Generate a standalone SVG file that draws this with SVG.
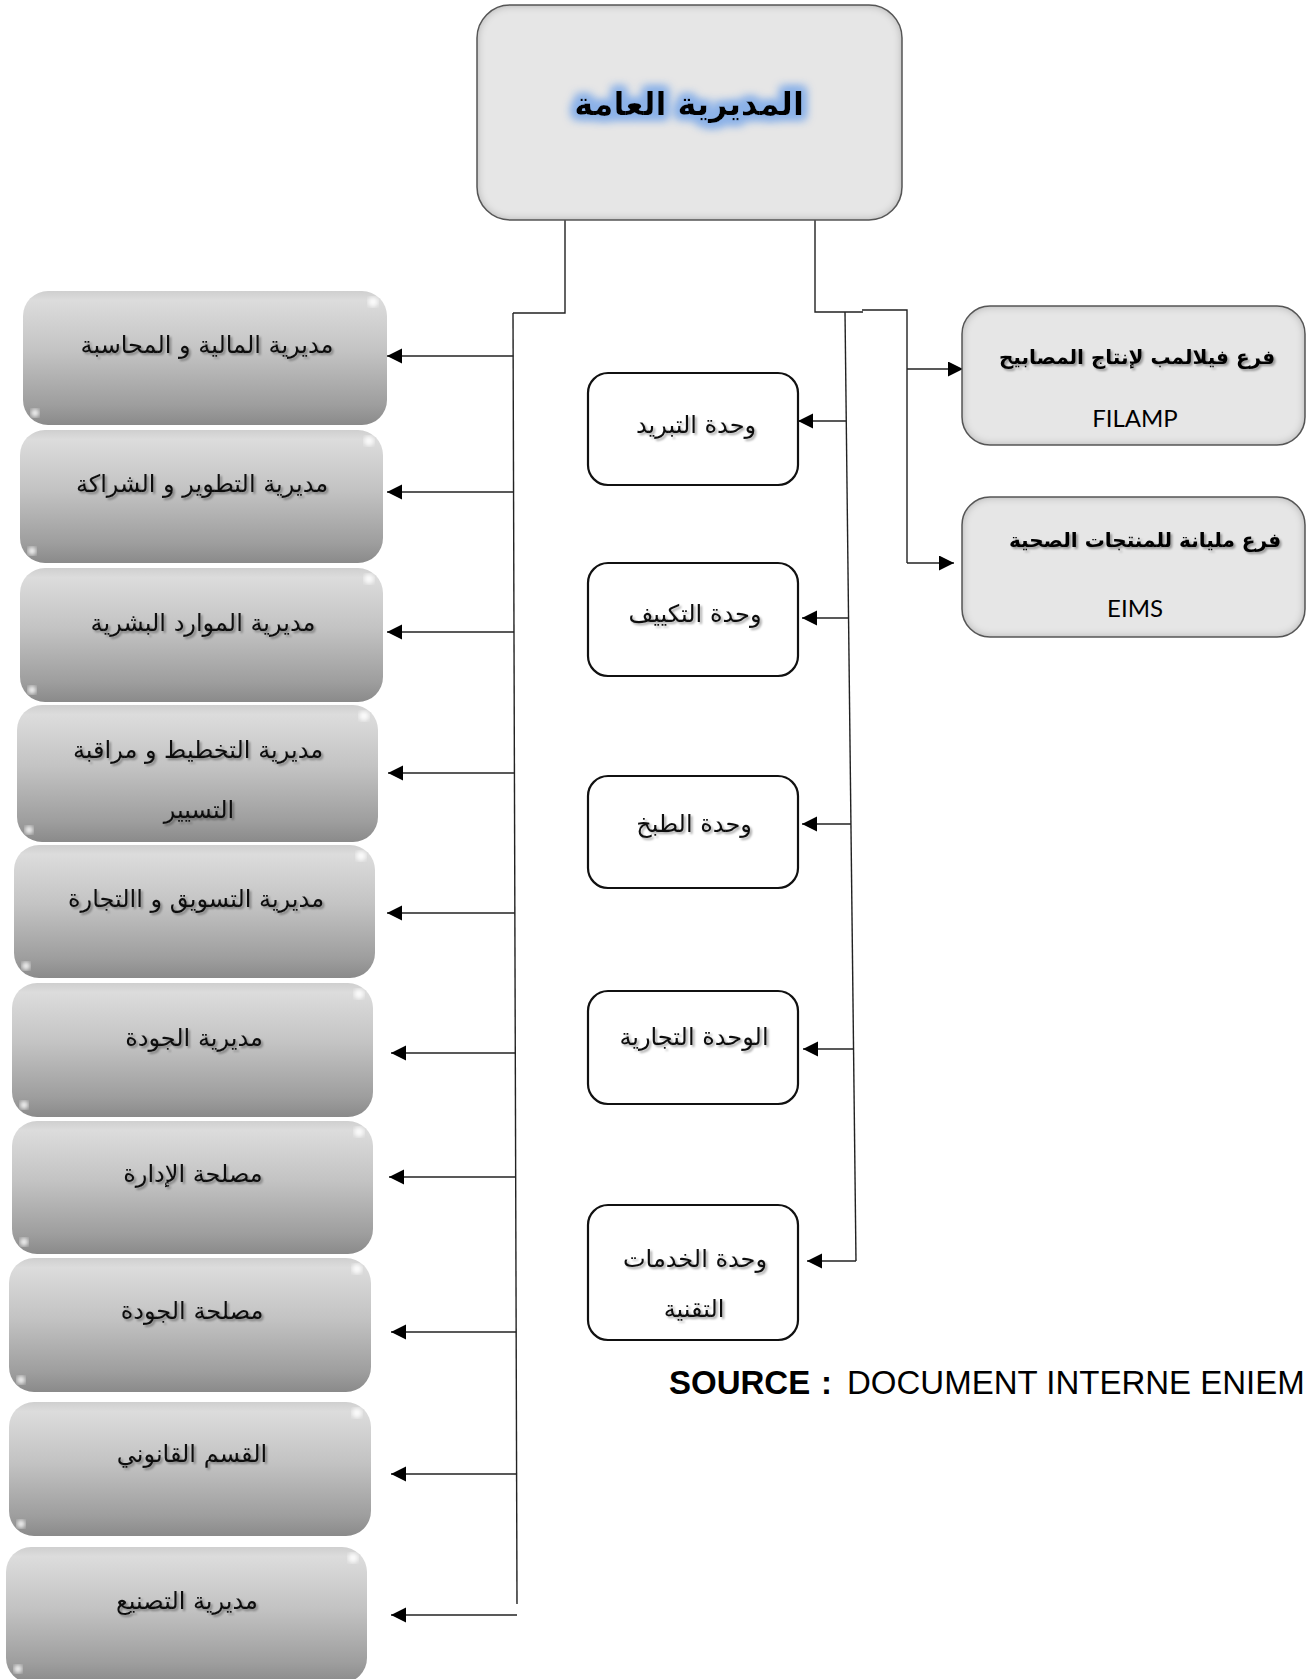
<svg xmlns="http://www.w3.org/2000/svg" width="1308" height="1679" viewBox="0 0 1308 1679">
<defs>
<linearGradient id="gBox" x1="0" y1="0" x2="0" y2="1">
<stop offset="0" stop-color="#cfcfcf"/>
<stop offset="0.07" stop-color="#dcdcdc"/>
<stop offset="0.45" stop-color="#c3c3c3"/>
<stop offset="0.85" stop-color="#9e9e9e"/>
<stop offset="1" stop-color="#8a8a8a"/>
</linearGradient>
<filter id="inset" x="-5%" y="-5%" width="110%" height="110%">
<feFlood flood-color="#000" flood-opacity="0.55"/>
<feComposite in2="SourceAlpha" operator="out"/>
<feGaussianBlur stdDeviation="4"/>
<feComposite in2="SourceAlpha" operator="in" result="sh"/>
<feMerge><feMergeNode in="SourceGraphic"/><feMergeNode in="sh"/></feMerge>
</filter>
<filter id="glow" x="-20%" y="-60%" width="140%" height="220%">
<feMorphology in="SourceAlpha" operator="dilate" radius="4" result="d"/>
<feGaussianBlur in="d" stdDeviation="5" result="b"/>
<feFlood flood-color="#8cb2e8"/>
<feComposite in2="b" operator="in" result="g"/>
<feMerge><feMergeNode in="g"/><feMergeNode in="g"/><feMergeNode in="SourceGraphic"/></feMerge>
</filter>
<filter id="tsh" x="-10%" y="-30%" width="120%" height="160%">
<feDropShadow dx="2" dy="2" stdDeviation="1.2" flood-color="#000" flood-opacity="0.35"/>
</filter>
<filter id="blur3"><feGaussianBlur stdDeviation="2"/></filter>
<marker id="ah" markerUnits="userSpaceOnUse" markerWidth="16" markerHeight="16" refX="15" refY="7.5" orient="auto">
<path d="M0,0 L15,7.5 L0,15 z" fill="#000"/>
</marker>
<style>
.ln{fill:none;stroke:#222;stroke-width:1.4}
.ar{fill:none;stroke:#222;stroke-width:1.4;marker-end:url(#ah)}
.gb{fill:url(#gBox)}
.hl{fill:#fff;opacity:0.9;filter:url(#blur3)}
.lt{font-family:"DejaVu Sans",sans-serif;font-size:24px;fill:#111;text-anchor:middle;filter:url(#tsh)}
.ub{fill:#fff;stroke:#111;stroke-width:2.2}
.bb{fill:#e6e6e6}
.bs{fill:none;stroke:#555;stroke-width:1.5}
.bt{font-family:"DejaVu Sans",sans-serif;font-size:20px;font-weight:bold;fill:#000;text-anchor:middle;filter:url(#tsh)}
.lat{font-family:Lato,"Open Sans",sans-serif;font-size:24px;fill:#000;text-anchor:middle}
</style>
</defs>
<rect width="1308" height="1679" fill="#fff"/>

<g id="connectors">
<path class="ln" d="M565,220 V313 H513"/>
<path class="ln" d="M513,313 L517,1604"/>
<path class="ar" d="M513.3,356 H387"/>
<path class="ar" d="M513.6,492 H387"/>
<path class="ar" d="M514.0,632 H387"/>
<path class="ar" d="M514.4,773 H388"/>
<path class="ar" d="M514.8,913 H387"/>
<path class="ar" d="M515.3,1053 H391"/>
<path class="ar" d="M515.7,1177 H389"/>
<path class="ar" d="M516.1,1332 H391"/>
<path class="ar" d="M516.6,1474 H391"/>
<path class="ar" d="M517,1615 H391"/>
<path class="ln" d="M815,220 V312 H863"/>
<path class="ln" d="M845,312 L856,1261"/>
<path class="ar" d="M846.3,421 H798"/>
<path class="ar" d="M848.5,618 H802"/>
<path class="ar" d="M851,824 H802"/>
<path class="ar" d="M853.5,1049 H803"/>
<path class="ar" d="M856,1261 H807"/>
<path class="ln" d="M862,310 H907 V563"/>
<path class="ar" d="M907,369 H963"/>
<path class="ar" d="M907,563 H954"/>
</g>

<g id="n-general">
<rect class="bb" x="477" y="5" width="425" height="215" rx="33" filter="url(#inset)"/>
<rect class="bs" x="477" y="5" width="425" height="215" rx="33"/>
<text x="689" y="115" font-family="DejaVu Sans, sans-serif" font-size="32" font-weight="bold" text-anchor="middle" fill="#000" filter="url(#glow)">المديرية العامة</text>
</g>

<g id="n-filamp">
<rect class="bb" x="962" y="306" width="343" height="139" rx="28" filter="url(#inset)"/>
<rect class="bs" x="962" y="306" width="343" height="139" rx="28"/>
<text class="bt" x="1137" y="364">فرع فيلالمب  لإنتاج المصابيح</text>
<text class="lat" x="1135" y="427">FILAMP</text>
</g>

<g id="n-eims">
<rect class="bb" x="962" y="497" width="343" height="140" rx="28" filter="url(#inset)"/>
<rect class="bs" x="962" y="497" width="343" height="140" rx="28"/>
<text class="bt" x="1145" y="547">فرع مليانة للمنتجات الصحية</text>
<text class="lat" x="1135" y="617">EIMS</text>
</g>

<g id="n-d1">
<rect class="gb" x="23" y="291" width="364" height="134" rx="25"/>
<circle class="hl" cx="373" cy="302" r="5"/><circle class="hl" cx="35" cy="413" r="4"/>
<text class="lt" x="207" y="353">مديرية المالية و المحاسبة</text>
</g>
<g id="n-d2">
<rect class="gb" x="20" y="430" width="363" height="133" rx="25"/>
<circle class="hl" cx="369" cy="441" r="5"/><circle class="hl" cx="32" cy="551" r="4"/>
<text class="lt" x="202" y="492">مديرية التطوير و الشراكة</text>
</g>
<g id="n-d3">
<rect class="gb" x="20" y="568" width="363" height="134" rx="25"/>
<circle class="hl" cx="369" cy="579" r="5"/><circle class="hl" cx="32" cy="690" r="4"/>
<text class="lt" x="203" y="631">مديرية الموارد البشرية</text>
</g>
<g id="n-d4">
<rect class="gb" x="17" y="705" width="361" height="137" rx="25"/>
<circle class="hl" cx="364" cy="716" r="5"/><circle class="hl" cx="29" cy="830" r="4"/>
<text class="lt" x="198" y="758">مديرية التخطيط و مراقبة</text>
<text class="lt" x="199" y="818">التسيير</text>
</g>
<g id="n-d5">
<rect class="gb" x="14" y="845" width="361" height="133" rx="25"/>
<circle class="hl" cx="361" cy="856" r="5"/><circle class="hl" cx="26" cy="966" r="4"/>
<text class="lt" x="196" y="907">مديرية التسويق و  االتجارة</text>
</g>
<g id="n-d6">
<rect class="gb" x="12" y="983" width="361" height="134" rx="25"/>
<circle class="hl" cx="359" cy="994" r="5"/><circle class="hl" cx="24" cy="1105" r="4"/>
<text class="lt" x="194" y="1046">مديرية الجودة</text>
</g>
<g id="n-d7">
<rect class="gb" x="12" y="1121" width="361" height="133" rx="25"/>
<circle class="hl" cx="359" cy="1132" r="5"/><circle class="hl" cx="24" cy="1242" r="4"/>
<text class="lt" x="193" y="1182">مصلحة الإدارة</text>
</g>
<g id="n-d8">
<rect class="gb" x="9" y="1258" width="362" height="134" rx="25"/>
<circle class="hl" cx="357" cy="1269" r="5"/><circle class="hl" cx="21" cy="1380" r="4"/>
<text class="lt" x="192" y="1319">مصلحة الجودة</text>
</g>
<g id="n-d9">
<rect class="gb" x="9" y="1402" width="362" height="134" rx="25"/>
<circle class="hl" cx="357" cy="1413" r="5"/><circle class="hl" cx="21" cy="1524" r="4"/>
<text class="lt" x="192" y="1462">القسم القانوني</text>
</g>
<g id="n-d10">
<rect class="gb" x="6" y="1547" width="361" height="136" rx="25"/>
<circle class="hl" cx="353" cy="1558" r="5"/><circle class="hl" cx="18" cy="1669" r="4"/>
<text class="lt" x="187" y="1609">مديرية التصنيع</text>
</g>

<g id="n-u1">
<rect class="ub" x="588" y="373" width="210" height="112" rx="20"/>
<text class="lt" x="696" y="433">وحدة التبريد</text>
</g>
<g id="n-u2">
<rect class="ub" x="588" y="563" width="210" height="113" rx="20"/>
<text class="lt" x="695" y="622">وحدة التكييف</text>
</g>
<g id="n-u3">
<rect class="ub" x="588" y="776" width="210" height="112" rx="20"/>
<text class="lt" x="694" y="832">وحدة الطبخ</text>
</g>
<g id="n-u4">
<rect class="ub" x="588" y="991" width="210" height="113" rx="20"/>
<text class="lt" x="694" y="1045">الوحدة التجارية</text>
</g>
<g id="n-u5">
<rect class="ub" x="588" y="1205" width="210" height="135" rx="20"/>
<text class="lt" x="695" y="1267">وحدة الخدمات</text>
<text class="lt" x="694" y="1317">التقنية</text>
</g>

<text y="1394" font-family="Liberation Sans, Arial, sans-serif" font-size="33" fill="#000"><tspan x="669" font-weight="bold">SOURCE</tspan><tspan x="821" font-weight="bold">:</tspan><tspan x="847">DOCUMENT INTERNE ENIEM</tspan></text>
</svg>
